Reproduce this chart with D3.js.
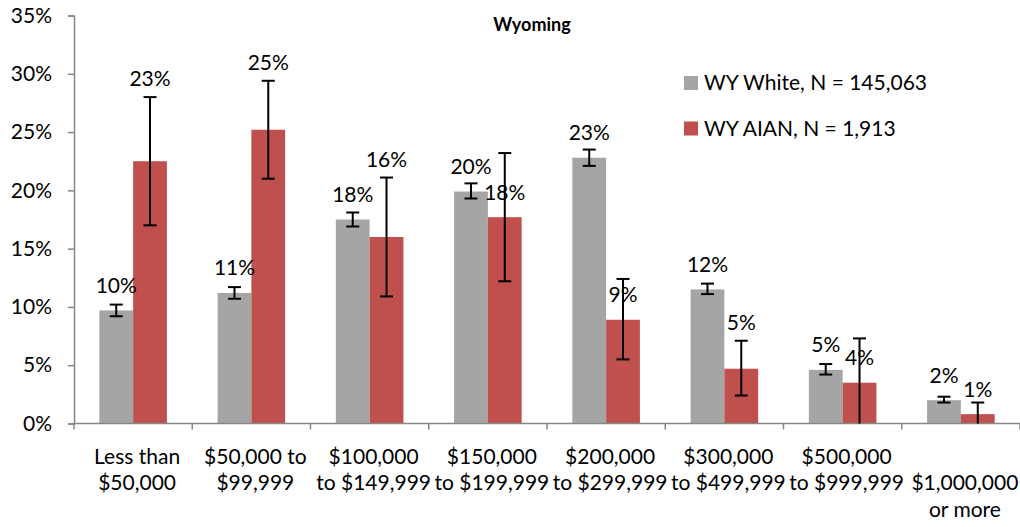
<!DOCTYPE html>
<html>
<head>
<meta charset="utf-8">
<script src="https://cdn.jsdelivr.net/npm/d3@7"></script>
<style>
  body { margin: 0; background: #fff; }
  text { font-family: Lato, "Open Sans", sans-serif; fill: #000; }
</style>
</head>
<body>
<script>
// Wyoming home values, White vs AIAN households (percent)
var categories = [
    ["Less than", "$50,000"],
    ["$50,000 to", "$99,999"],
    ["$100,000", "to $149,999"],
    ["$150,000", "to $199,999"],
    ["$200,000", "to $299,999"],
    ["$300,000", "to $499,999"],
    ["$500,000", "to $999,999"],
    ["", "$1,000,000", "or more"]
];
var seriesNames = ["WY White, N = 145,063", "WY AIAN, N = 1,913"];

var white = [9.7, 11.2, 17.5, 19.9, 22.8, 11.5, 4.6, 2.0];
var whiteLo = [9.2, 10.7, 16.9, 19.3, 22.1, 11.1, 4.2, 1.8];
var whiteHi = [10.2, 11.7, 18.1, 20.6, 23.5, 12.0, 5.1, 2.3];
var whiteLabels = ["10%", "11%", "18%", "20%", "23%", "12%", "5%", "2%"];

var aian = [22.5, 25.2, 16.0, 17.7, 8.9, 4.7, 3.5, 0.8];
var aianLo = [17.0, 21.0, 10.9, 12.2, 5.5, 2.4, 0, 0];
var aianHi = [28.0, 29.4, 21.1, 23.2, 12.4, 7.1, 7.3, 1.8];
var aianLabels = ["23%", "25%", "16%", "18%", "9%", "5%", "4%", "1%"];
// labels that were dragged above the error bar in the original
var aianLabelAboveError = [true, true, true, false, false, true, false, false];

var yTicks = [0, 5, 10, 15, 20, 25, 30, 35];

var colors = ["#a5a5a5", "#c0504d"];

var width = 1020, height = 527;
var plotLeft = 74, plotRight = 1020, plotTop = 15.5, plotBottom = 423.5;
var fontSize = 21;

var svg = d3.select("body").append("svg")
    .attr("width", width)
    .attr("height", height);

var x = d3.scaleBand()
    .domain(d3.range(categories.length))
    .range([plotLeft, plotRight]);

var y = d3.scaleLinear()
    .domain([0, 35])
    .range([plotBottom, plotTop]);

var barW = x.bandwidth() / 3.5;

var series = [
    { vals: white, lo: whiteLo, hi: whiteHi, labels: whiteLabels, off: -barW },
    { vals: aian, lo: aianLo, hi: aianHi, labels: aianLabels, off: 0 }
];

// bars
series.forEach(function (s, si) {
    svg.append("g").selectAll("rect")
        .data(s.vals)
        .enter()
        .append("rect")
        .attr("x", function (d, i) { return x(i) + x.bandwidth() / 2 + s.off; })
        .attr("y", function (d) { return y(d); })
        .attr("width", barW)
        .attr("height", function (d) { return y(0) - y(d); })
        .attr("fill", colors[si]);
});

// axes
var yAxis = svg.append("g")
    .attr("transform", "translate(" + plotLeft + ",0)")
    .call(d3.axisLeft(y).tickValues(yTicks).tickSize(6).tickPadding(16)
        .tickFormat(function (d) { return d + "%"; }));
yAxis.select(".domain").attr("stroke", "#868686").attr("stroke-width", 1.5);
yAxis.selectAll(".tick line").attr("stroke", "#868686").attr("stroke-width", 1.5);
yAxis.selectAll("text").attr("font-size", fontSize).attr("font-family", "Lato").attr("fill", "#000");

var xAxis = svg.append("g").attr("transform", "translate(0," + plotBottom + ")");
xAxis.append("line")
    .attr("x1", plotLeft).attr("x2", plotRight)
    .attr("stroke", "#868686").attr("stroke-width", 1.5);
xAxis.selectAll(".tk")
    .data(d3.range(categories.length + 1))
    .enter()
    .append("line")
    .attr("x1", function (d) { return plotLeft + d * x.step(); })
    .attr("x2", function (d) { return plotLeft + d * x.step(); })
    .attr("y1", 0).attr("y2", 6)
    .attr("stroke", "#868686").attr("stroke-width", 1.5);

var catText = xAxis.selectAll(".cat")
    .data(categories)
    .enter()
    .append("text")
    .attr("text-anchor", "middle")
    .attr("font-size", fontSize);
catText.selectAll("tspan")
    .data(function (d, i) { return d.map(function (l) { return { l: l, i: i }; }); })
    .enter()
    .append("tspan")
    .attr("x", function (d) { return x(d.i) + x.bandwidth() / 2 + 4; })
    .attr("y", function (d, j) { return 40 + j * 26.5; })
    .text(function (d) { return d.l; });

// error bars
series.forEach(function (s) {
    var g = svg.append("g").attr("stroke", "#000").attr("stroke-width", 2);
    s.vals.forEach(function (v, i) {
        var cx = x(i) + x.bandwidth() / 2 + s.off + barW / 2;
        g.append("line").attr("x1", cx).attr("x2", cx)
            .attr("y1", y(s.lo[i])).attr("y2", y(s.hi[i]));
        g.append("line").attr("x1", cx - 6.5).attr("x2", cx + 6.5)
            .attr("y1", y(s.hi[i])).attr("y2", y(s.hi[i]));
        if (s.lo[i] > 0) {
            g.append("line").attr("x1", cx - 6.5).attr("x2", cx + 6.5)
                .attr("y1", y(s.lo[i])).attr("y2", y(s.lo[i]));
        }
    });
});

// data labels
series.forEach(function (s, si) {
    svg.append("g").selectAll("text")
        .data(s.labels)
        .enter()
        .append("text")
        .attr("text-anchor", "middle")
        .attr("font-size", fontSize)
        .attr("x", function (d, i) { return x(i) + x.bandwidth() / 2 + s.off + barW / 2; })
        .attr("y", function (d, i) {
            if (si == 1 && aianLabelAboveError[i]) return y(s.hi[i]) - 18;
            return y(s.vals[i]) - 25;
        })
        .attr("dy", "0.35em")
        .text(function (d) { return d; });
});

// title
svg.append("text")
    .attr("x", 532)
    .attr("y", 31)
    .attr("text-anchor", "middle")
    .attr("font-size", 18)
    .attr("font-weight", "bold")
    .text("Wyoming");

// legend
var legend = svg.append("g")
    .selectAll("g")
    .data(seriesNames)
    .enter()
    .append("g")
    .attr("transform", function (d, i) { return "translate(684," + (76 + i * 45.5) + ")"; });
legend.append("rect")
    .attr("width", 14).attr("height", 14)
    .attr("fill", function (d, i) { return colors[i]; });
legend.append("text")
    .attr("x", 20).attr("y", 7).attr("dy", "0.35em")
    .attr("font-size", fontSize)
    .text(function (d) { return d; });
</script>
</body>
</html>
